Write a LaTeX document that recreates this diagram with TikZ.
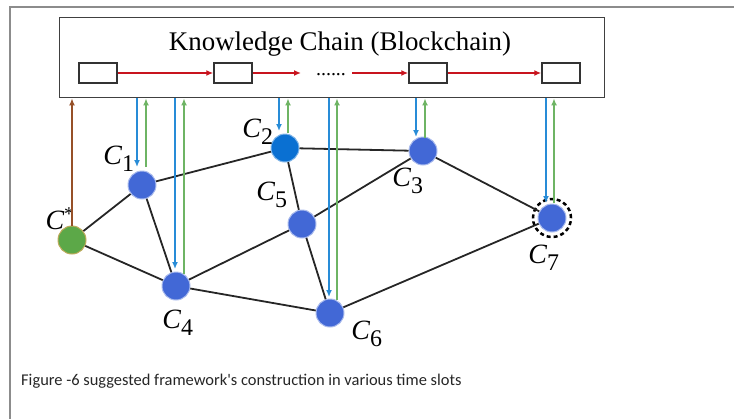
\documentclass[tikz,border=0pt]{standalone}
\usepackage{fontspec}
\setmainfont{Liberation Serif}
\newfontfamily\capfont{Carlito}
\usetikzlibrary{arrows.meta}

\definecolor{nodeblue}{RGB}{66,104,214}
\definecolor{deepblue}{RGB}{10,112,210}
\definecolor{seedgreen}{RGB}{92,168,72}
\definecolor{seedrim}{RGB}{190,170,90}
\definecolor{downblue}{RGB}{40,140,215}
\definecolor{upgreen}{RGB}{110,180,100}
\definecolor{rootbrown}{RGB}{150,80,40}
\definecolor{chainred}{RGB}{200,20,30}
\definecolor{framegray}{RGB}{140,140,140}

\tikzset{
  peer/.style={circle, fill=nodeblue, draw=nodeblue!45, line width=1pt,
    minimum width=27bp, minimum height=28bp, inner sep=0pt},
  block/.style={draw=black!80, line width=1.5bp, minimum width=38bp,
    minimum height=20bp, inner sep=0pt},
  link/.style={draw=black!85, line width=1.8bp},
  chain/.style={draw=chainred, line width=1.5bp, -{Latex[length=7bp,width=6bp]}},
  fetch/.style={draw=downblue, line width=1.6bp, -{Latex[length=7bp,width=6bp]}},
  push/.style={draw=upgreen, line width=1.5bp, -{Latex[length=7bp,width=6bp]}},
  lbl/.style={font=\fontsize{28}{28}\selectfont\itshape, inner sep=0pt}
}
\newcommand{\cname}[1]{C\textsubscript{\fontsize{24}{24}\selectfont\upshape #1}}

\begin{document}
\begin{tikzpicture}[x=1bp,y=-1bp]
  \useasboundingbox (0,0) rectangle (734,419);
  % page frame
  \draw[framegray, line width=1.5bp] (10,419) -- (10,7) -- (734,7);

  % ledger box with its blocks
  \node[draw=black!75, line width=1.8bp, minimum width=545bp, minimum height=80bp,
        inner sep=0pt] (ledger) at (332,57.5) {};
  \node[font=\fontsize{27}{27}\selectfont, inner sep=0pt] (title) at (340,44)
        {Knowledge Chain (Blockchain)};
  \node[block] (b1) at (98,73) {};
  \node[block] (b2) at (233,73) {};
  \node[block] (b3) at (428,73) {};
  \node[block] (b4) at (561,73) {};
  \coordinate (gapA) at (301,73);
  \coordinate (gapB) at (352,73);
  \node[inner sep=0pt, anchor=base, font=\fontsize{20}{20}\selectfont] (dots)
        at (331,75) {......};
  \draw[chain] (b1) -- (b2);
  \draw[chain] (b2) -- (gapA);
  \draw[chain] (gapB) -- (b3);
  \draw[chain] (b3) -- (b4);

  % peers
  \node[peer, fill=seedgreen, draw=seedrim] (cs) at (72,240) {};
  \node[peer] (c1) at (142,185) {};
  \node[peer, fill=deepblue, draw=deepblue!50] (c2) at (285,148) {};
  \node[peer] (c3) at (423,151) {};
  \node[peer] (c4) at (176,286) {};
  \node[peer] (c5) at (302,224) {};
  \node[peer] (c6) at (330,313) {};
  \node[peer] (c7) at (552,218) {};
  \node[circle, draw=black, line width=2.5bp, dash pattern=on 4bp off 3bp,
        minimum size=38bp, inner sep=0pt] (ring) at (c7) {};

  % labels
  \node[lbl] (lcs) at (60,219) {C\textsuperscript{\upshape *}};
  \node[lbl] (l1) at (119,159) {\cname{1}};
  \node[lbl] (l2) at (258,132) {\cname{2}};
  \node[lbl] (l3) at (408,181) {\cname{3}};
  \node[lbl] (l4) at (178,323) {\cname{4}};
  \node[lbl] (l5) at (272,195) {\cname{5}};
  \node[lbl] (l6) at (367,334) {\cname{6}};
  \node[lbl] (l7) at (544,258) {\cname{7}};

  % links between peers
  \draw[link] (cs) -- (c1);
  \draw[link] (cs) -- (c4);
  \draw[link] (c1) -- (c2);
  \draw[link] (c1) -- (c4);
  \draw[link] (c2) -- (c3);
  \draw[link] (c2) -- (c5);
  \draw[link] (c4) -- (c5);
  \draw[link] (c4) -- (c6);
  \draw[link] (c5) -- (c3);
  \draw[link] (c5) -- (c6);
  \draw[link] (c3) -- (c7);
  \draw[link] (c6) -- (c7);

  % traffic between peers and the ledger
  \draw[rootbrown, line width=1.5bp, -{Latex[length=7bp,width=6bp]}]
       (cs.north) -- (cs.north |- ledger.south);
  \draw[fetch] (ledger.south -| 137,0) -- (137,167);
  \draw[push]  (146,167) -- (ledger.south -| 146,0);
  \draw[fetch] (ledger.south -| 175,0) -- (175,269);
  \draw[push]  (184,274) -- (ledger.south -| 184,0);
  \draw[fetch] (ledger.south -| 279,0) -- (279,131);
  \draw[push]  (288,133) -- (ledger.south -| 288,0);
  \draw[fetch] (ledger.south -| 329,0) -- (329,297);
  \draw[push]  (337,300) -- (ledger.south -| 337,0);
  \draw[fetch] (ledger.south -| 416,0) -- (416,137);
  \draw[push]  (425,138) -- (ledger.south -| 425,0);
  \draw[fetch] (ledger.south -| 546,0) -- (546,203);
  \draw[push]  (554,203) -- (ledger.south -| 554,0);

  % caption
  \node[anchor=west, inner sep=0pt, font=\capfont\fontsize{16.5}{17}\selectfont,
        text=black!85] (caption) at (21,381)
        {Figure -6 suggested framework's construction in various time slots};
\end{tikzpicture}
\end{document}
